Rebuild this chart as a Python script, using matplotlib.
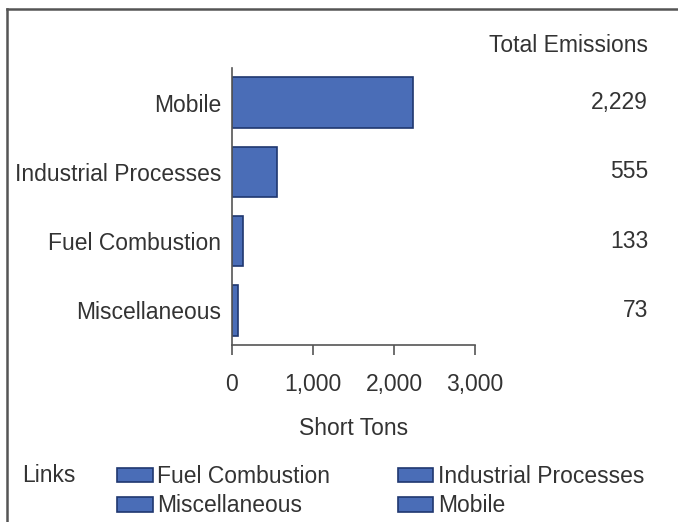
import matplotlib.pyplot as plt
from matplotlib.patches import Patch
from matplotlib.lines import Line2D

# data
categories = ['Mobile', 'Industrial Processes', 'Fuel Combustion', 'Miscellaneous']
emissions = [2229, 555, 133, 73]
xticks = [0, 1000, 2000, 3000]
legend_order = ['Fuel Combustion', 'Miscellaneous', 'Industrial Processes', 'Mobile']

bar_color = '#4a6db7'
edge_color = '#1f3770'
text_color = '#333333'
fs = 16.5

plt.rcParams['font.family'] = ['Liberation Sans', 'DejaVu Sans']
plt.rcParams['text.color'] = text_color

fig = plt.figure(figsize=(6.78, 5.22), dpi=100)
W, H = 678, 522
ax = fig.add_axes([232 / W, 1 - 345 / H, (475 - 232) / W, (345 - 68) / H])

ypos = list(range(len(categories)))
ax.barh(ypos, emissions, height=0.73, color=bar_color, edgecolor=edge_color, linewidth=1.2)
ax.set_ylim(len(categories) - 0.5, -0.5)
ax.set_xlim(0, 3000)
ax.set_yticks(ypos)
ax.set_yticklabels(categories, fontsize=fs, color=text_color)
ax.set_xticks(xticks)
ax.set_xticklabels([f'{v:,}' for v in xticks], fontsize=fs, color=text_color)
ax.tick_params(axis='y', length=0, pad=8)
ax.tick_params(axis='x', length=7, width=1.2, color='#555555', pad=13)
for s in ['top', 'right']:
    ax.spines[s].set_visible(False)
for s in ['left', 'bottom']:
    ax.spines[s].set_color('#555555')
    ax.spines[s].set_linewidth(1.2)
ax.set_xlabel('Short Tons', fontsize=fs, color=text_color, labelpad=15)

# total emissions column
fig.text(648 / W, 1 - 46 / H, 'Total Emissions', ha='right', va='center', fontsize=fs)
for i, v in enumerate(emissions):
    y_fig = fig.transFigure.inverted().transform(ax.transData.transform((0, i)))[1]
    fig.text(648 / W, y_fig, f'{v:,}', ha='right', va='center', fontsize=fs)

# legend
fig.text(22 / W, 1 - 475 / H, 'Links', ha='left', va='center', fontsize=fs)
handles = [Patch(facecolor=bar_color, edgecolor=edge_color, linewidth=1.2, label=l) for l in legend_order]
fig.legend(handles=handles, ncol=2, loc='upper left', bbox_to_anchor=(117 / W, 1 - 465 / H),
           frameon=False, fontsize=fs, handlelength=1.55, handleheight=0.62,
           handletextpad=0.2, columnspacing=2.95, labelspacing=0.27, borderpad=0, borderaxespad=0)

# outer frame (cut off at right and bottom)
fig.add_artist(Line2D([7 / W, 7 / W], [0, 1 - 9 / H], transform=fig.transFigure, color='#555555', linewidth=1.8))
fig.add_artist(Line2D([7 / W, 1], [1 - 9 / H, 1 - 9 / H], transform=fig.transFigure, color='#555555', linewidth=1.8))

fig.savefig('out.png', dpi=100)
